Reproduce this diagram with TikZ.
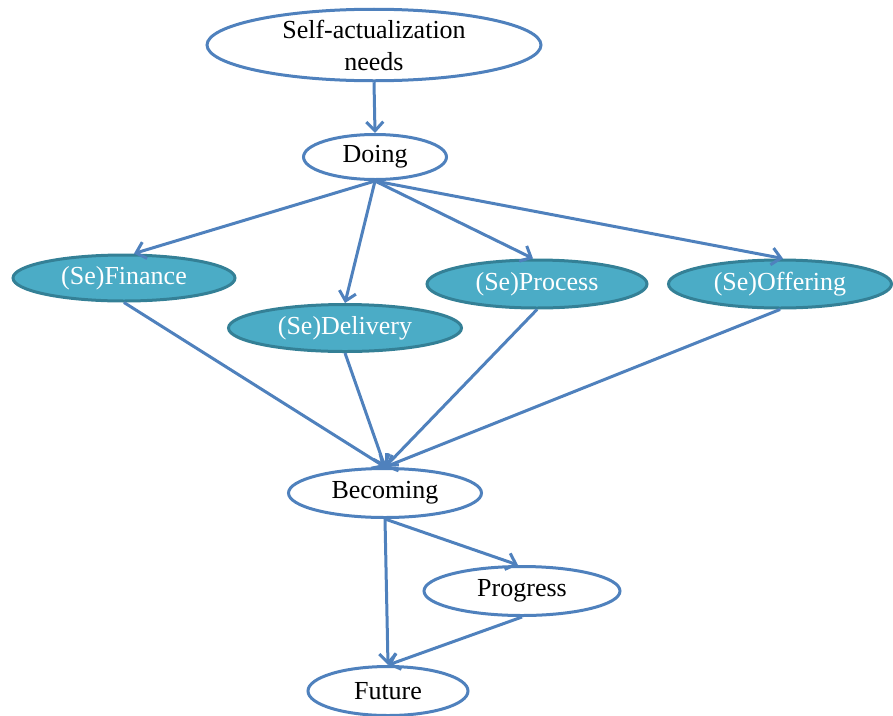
\documentclass[tikz,border=0pt]{standalone}
\usepackage{fontspec}
\setmainfont{Liberation Serif}
\usetikzlibrary{shapes.geometric,arrows.meta}
\definecolor{edgeblue}{RGB}{79,129,189}
\definecolor{tealfill}{RGB}{75,172,198}
\definecolor{tealline}{RGB}{52,128,150}
\tikzset{
  plain/.style={ellipse,draw=edgeblue,line width=3pt,fill=white,inner sep=0pt,
    font=\fontsize{26}{32}\selectfont,align=center},
  sebox/.style={ellipse,draw=tealline,line width=3pt,fill=tealfill,inner sep=0pt,
    text=white,font=\fontsize{26}{32}\selectfont},
  conn/.style={draw=edgeblue,line width=3pt,-{Straight Barb[length=9pt,width=17pt]}}
}
\begin{document}
\begin{tikzpicture}[x=1pt,y=-1pt]
\useasboundingbox (0,0) rectangle (893,715);
\node[plain,minimum width=334pt,minimum height=68pt] (self) at (374,45) {Self-actualization\\needs};
\node[plain,minimum width=143pt,minimum height=45pt] (doing) at (375,157) {Doing};
\node[sebox,minimum width=222pt,minimum height=46pt] (fin) at (124,278) {(Se)Finance};
\node[sebox,minimum width=233pt,minimum height=47pt] (del) at (345,328) {(Se)Delivery};
\node[sebox,minimum width=220pt,minimum height=48pt] (pro) at (537,284) {(Se)Process};
\node[sebox,minimum width=223pt,minimum height=48pt] (off) at (780,284) {(Se)Offering};
\node[plain,minimum width=193pt,minimum height=49pt] (bec) at (385,493) {Becoming};
\node[plain,minimum width=196pt,minimum height=49pt] (prog) at (522,591) {Progress};
\node[plain,minimum width=160pt,minimum height=49pt] (fut) at (388,691) {Future};
\draw[conn] (self.south) -- (doing.north);
\draw[conn] (doing.south) -- ([xshift=10pt]fin.north);
\draw[conn] (doing.south) -- (del.north);
\draw[conn] (doing.south) -- ([xshift=-4pt]pro.north);
\draw[conn] (doing.south) -- ([xshift=3pt]off.north);
\draw[conn] (fin.south) -- (bec.north);
\draw[conn] (del.south) -- (bec.north);
\draw[conn] (pro.south) -- (bec.north);
\draw[conn] (off.south) -- (bec.north);
\draw[conn] (bec.south) -- ([xshift=-4pt]prog.north);
\draw[conn] (bec.south) -- (fut.north);
\draw[conn] (prog.south) -- (fut.north);
\end{tikzpicture}
\end{document}
